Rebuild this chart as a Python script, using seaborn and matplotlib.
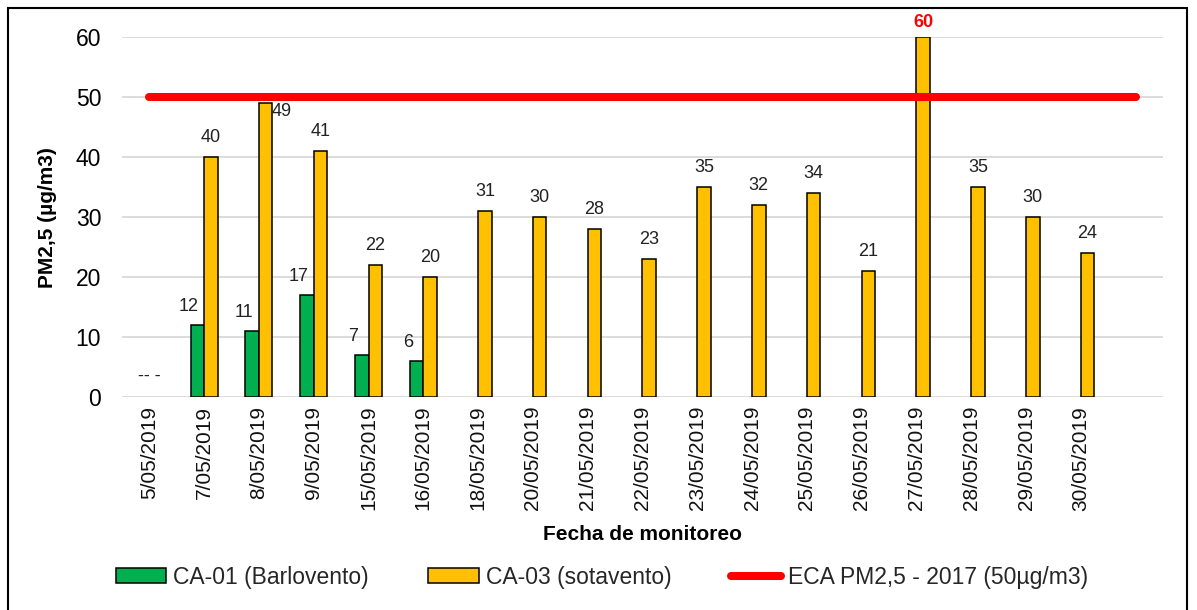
import numpy as np
import pandas as pd
import matplotlib
matplotlib.use('Agg')
import matplotlib.pyplot as plt
from matplotlib.patches import Patch, Rectangle
from matplotlib.lines import Line2D
import seaborn as sns

fechas = ['5/05/2019', '7/05/2019', '8/05/2019', '9/05/2019', '15/05/2019',
          '16/05/2019', '18/05/2019', '20/05/2019', '21/05/2019', '22/05/2019',
          '23/05/2019', '24/05/2019', '25/05/2019', '26/05/2019', '27/05/2019',
          '28/05/2019', '29/05/2019', '30/05/2019']
ca01 = [np.nan, 12, 11, 17, 7, 6] + [np.nan] * 12
ca03 = [np.nan, 40, 49, 41, 22, 20, 31, 30, 28, 23, 35, 32, 34, 21, 60, 35, 30, 24]
eca_limite = 50
serie_names = ['CA-01 (Barlovento)', 'CA-03 (sotavento)']
eca_name = 'ECA PM2,5 - 2017 (50µg/m3)'
sin_dato = '-- -'

verde = '#00B050'
naranja = '#FFC000'
rojo = '#FF0000'

df = pd.DataFrame({
    'fecha': fechas * 2,
    'serie': [serie_names[0]] * len(fechas) + [serie_names[1]] * len(fechas),
    'valor': ca01 + ca03,
})

sns.set_theme(style='white')
plt.rcParams['font.family'] = ['Liberation Sans', 'DejaVu Sans']

fig = plt.figure(figsize=(11.97, 6.10), dpi=100)
ax = fig.add_axes([0.1019, 0.3484, 0.8697, 0.5909])

sns.barplot(data=df, x='fecha', y='valor', hue='serie', order=fechas,
            hue_order=serie_names, palette=[verde, naranja], saturation=1,
            width=0.492, edgecolor='black', linewidth=1.1, legend=False,
            ax=ax, zorder=2)

# linea del estandar ECA
x_eca = [0, len(fechas)]
ax.plot(x_eca, [eca_limite, eca_limite], color=rojo, lw=5.8,
        solid_capstyle='round', zorder=4)

ax.set_xlim(-0.5, len(fechas) + 0.5)
ax.set_ylim(0, 60)
ax.set_yticks(np.arange(0, 61, 10))
ax.grid(axis='y', color='#d9d9d9', lw=1.3, zorder=0)
ax.set_axisbelow(True)
for s in ['top', 'right', 'left', 'bottom']:
    ax.spines[s].set_visible(False)
ax.tick_params(axis='y', length=0, pad=15, labelsize=16.5, labelcolor='black')
ax.tick_params(axis='x', length=0, pad=6, labelsize=15, labelcolor='#111111')
plt.setp(ax.get_xticklabels(), rotation=90)

ax.set_ylabel('PM2,5 (µg/m3)', fontsize=15, fontweight='bold', color='black')
ax.yaxis.set_label_coords(-0.072, 0.5)
ax.yaxis.label.set_va('center')
ax.set_xlabel('Fecha de monitoreo', fontsize=15, fontweight='bold', color='black')
ax.xaxis.set_label_coords(0.5, -0.381)
ax.xaxis.label.set_va('center')

# etiquetas de datos
dx = 0.123
for i, v in enumerate(ca01):
    if not np.isnan(v):
        ax.text(i - dx - 0.16, v + 3.2, f'{v:.0f}', ha='center', va='center',
                fontsize=13, color='#222222', zorder=5)
for i, v in enumerate(ca03):
    if np.isnan(v):
        continue
    xo, yo = 0.0, 3.3
    color, weight = '#222222', 'normal'
    if v >= 49 and v < eca_limite:
        xo, yo = 0.3, -1.4
    if v > eca_limite:
        color, weight = rojo, 'bold'
        yo = 2.5
    ax.text(i + dx + xo, v + yo, f'{v:.0f}', ha='center', va='center',
            fontsize=13, color=color, fontweight=weight, zorder=5)
ax.text(0, 3.5, sin_dato, ha='center', va='center', fontsize=13, color='#222222')

handles = [Patch(facecolor=verde, edgecolor='black', lw=1.1),
           Patch(facecolor=naranja, edgecolor='black', lw=1.1),
           Line2D([0], [0], color=rojo, lw=5.8, solid_capstyle='round')]
fig.legend(handles, serie_names + [eca_name], loc='center',
           bbox_to_anchor=(0.503, 0.054), ncol=3, frameon=False, fontsize=16.5,
           handlelength=2.2, handleheight=0.6, handletextpad=0.3,
           columnspacing=2.6)

fig.patches.append(Rectangle((0.0067, -0.01), 0.985, 0.997, transform=fig.transFigure,
                             fill=False, edgecolor='black', lw=1.5))

fig.savefig('out.png', dpi=100)
